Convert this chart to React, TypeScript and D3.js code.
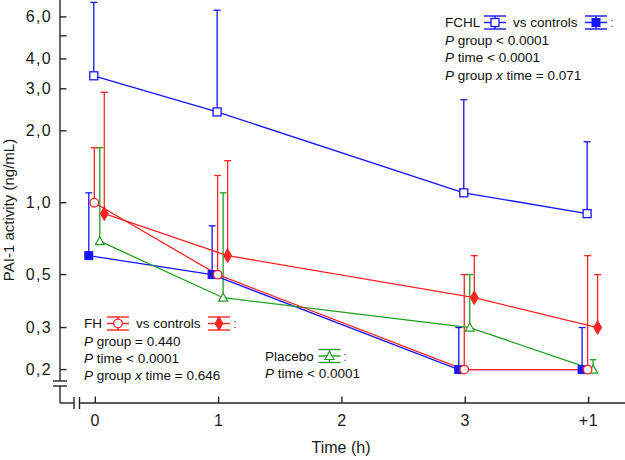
import React from "react";
import * as d3 from "d3";

// ---------- data ----------
const categories = ["0", "1", "2", "3", "+1"];
const timeIndex = [0, 1, 3, 4];

const fchlMean = [3.4, 2.4, 1.1, 0.9];
const fchlUpper = [6.9, 6.4, 2.7, 1.8];
const fchlCtrlMean = [0.6, 0.5, 0.2, 0.2];
const fchlCtrlUpper = [1.1, 0.8, 0.3, 0.3];
const fhMean = [1.0, 0.5, 0.2, 0.2];
const fhUpper = [1.7, 1.3, 0.5, 0.6];
const fhCtrlMean = [0.9, 0.6, 0.4, 0.3];
const fhCtrlUpper = [2.9, 1.5, 0.6, 0.5];
const placeboMean = [0.69, 0.4, 0.3, 0.2];
const placeboUpper = [1.7, 1.1, 0.5, 0.22];

const yTicks = [0.2, 0.3, 0.5, 1, 2, 3, 4, 5, 6];
const yTickLabels = ["0,2", "0,3", "0,5", "1,0", "2,0", "3,0", "4,0", "", "6,0"];

// ---------- styling ----------
const BLUE = "#1414ff";
const RED = "#ff2424";
const GREEN = "#22a022";
const AXIS = "#262626";
const FONT = "'Liberation Sans', Arial, sans-serif";

type Marker = "openSquare" | "filledSquare" | "openCircle" | "filledDiamond" | "openTriangle";

const series: { mean: number[]; upper: number[]; color: string; marker: Marker; dx: number }[] = [
  { mean: fchlCtrlMean, upper: fchlCtrlUpper, color: BLUE, marker: "filledSquare", dx: -6.5 },
  { mean: fchlMean, upper: fchlUpper, color: BLUE, marker: "openSquare", dx: -1.5 },
  { mean: placeboMean, upper: placeboUpper, color: GREEN, marker: "openTriangle", dx: 4.5 },
  { mean: fhCtrlMean, upper: fhCtrlUpper, color: RED, marker: "filledDiamond", dx: 9 },
  { mean: fhMean, upper: fhUpper, color: RED, marker: "openCircle", dx: -1 },
];

const x = d3.scaleLinear().domain([0, categories.length - 1]).range([95.3, 588.6]);
const y = d3.scaleLog().domain([0.2, 6]).range([369.6, 16.9]);

function MarkerShape({ type, cx, cy, color }: { type: Marker; cx: number; cy: number; color: string }) {
  switch (type) {
    case "openSquare":
      return <rect x={cx - 4} y={cy - 4} width={8} height={8} fill="#fff" stroke={color} strokeWidth={1.3} />;
    case "filledSquare":
      return <rect x={cx - 4} y={cy - 4} width={8} height={8} fill={color} stroke={color} strokeWidth={1} />;
    case "openCircle":
      return <circle cx={cx} cy={cy} r={4.3} fill="#fff" stroke={color} strokeWidth={1.3} />;
    case "filledDiamond":
      return (
        <path
          d={d3.symbol().type(d3.symbolDiamond).size(55)() as string}
          transform={`translate(${cx},${cy})`}
          fill={color}
          stroke={color}
          strokeWidth={1}
        />
      );
    case "openTriangle":
      return (
        <path
          d={`M${cx},${cy - 4.5}L${cx + 4.5},${cy + 3.5}L${cx - 4.5},${cy + 3.5}Z`}
          fill="#fff"
          stroke={color}
          strokeWidth={1.2}
        />
      );
  }
}

function LegendGlyph({ cx, cy, color, marker }: { cx: number; cy: number; color: string; marker: Marker }) {
  const w = 11;
  const h = 6.5;
  return (
    <g>
      <line x1={cx - w} x2={cx + w} y1={cy - h} y2={cy - h} stroke={color} strokeWidth={1.4} />
      <line x1={cx - w} x2={cx + w} y1={cy} y2={cy} stroke={color} strokeWidth={1.4} />
      <line x1={cx - w} x2={cx + w} y1={cy + h} y2={cy + h} stroke={color} strokeWidth={1.4} />
      <line x1={cx} x2={cx} y1={cy - h} y2={cy + h} stroke={color} strokeWidth={1.4} />
      <MarkerShape type={marker} cx={cx} cy={cy} color={color} />
    </g>
  );
}

const P = () => <tspan fontStyle="italic">P</tspan>;
const COLON = "#6a40c0";

export default function App() {
  const line = d3
    .line<[number, number]>()
    .x((d) => d[0])
    .y((d) => d[1]);

  return (
    <svg width={625} height={460} style={{ position: "absolute", left: 0, top: 0, background: "#fff" }} fontFamily={FONT}>
      {/* axes */}
      <g stroke={AXIS} strokeWidth={1.4} fill="none">
        <line x1={60} x2={60} y1={0} y2={381} />
        <line x1={60} x2={60} y1={386} y2={403} />
        <line x1={53} x2={67} y1={381} y2={381} />
        <line x1={53} x2={67} y1={386} y2={386} />
        <line x1={60} x2={74} y1={403} y2={403} />
        <line x1={79.5} x2={625} y1={403} y2={403} />
        <line x1={74} x2={74} y1={397} y2={409} />
        <line x1={79.5} x2={79.5} y1={397} y2={409} />
        {yTicks.map((t) => (
          <line key={t} x1={60} x2={66.5} y1={y(t)} y2={y(t)} />
        ))}
        {categories.map((c, i) => (
          <line key={c} x1={x(i)} x2={x(i)} y1={403} y2={396.5} />
        ))}
      </g>
      <g fontSize={16} fill="#1a1a1a">
        {yTicks.map((t, i) => (
          <text key={t} x={52} y={y(t) + 5.5} textAnchor="end" letterSpacing={1.3}>
            {yTickLabels[i]}
          </text>
        ))}
        {categories.map((c, i) => (
          <text key={c} x={x(i)} y={426} textAnchor="middle" letterSpacing={0.6}>
            {c}
          </text>
        ))}
      </g>
      <text x={341} y={453} textAnchor="middle" fontSize={16} fill="#1a1a1a">
        Time (h)
      </text>
      <text transform="translate(14,210) rotate(-90)" textAnchor="middle" fontSize={15} fill="#1a1a1a">
        PAI-1 activity (ng/mL)
      </text>

      {/* error bars */}
      {series.map((s, si) => (
        <g key={"e" + si} stroke={s.color} strokeWidth={1.3}>
          {timeIndex.map((ti, j) => {
            const px = x(ti) + s.dx;
            return (
              <g key={j}>
                <line x1={px} x2={px} y1={y(s.mean[j])} y2={y(s.upper[j])} />
                <line x1={px - 3.5} x2={px + 3.5} y1={y(s.upper[j])} y2={y(s.upper[j])} />
              </g>
            );
          })}
        </g>
      ))}
      {/* lines */}
      {series.map((s, si) => (
        <path
          key={"l" + si}
          d={line(timeIndex.map((ti, j) => [x(ti) + s.dx, y(s.mean[j])])) as string}
          fill="none"
          stroke={s.color}
          strokeWidth={1.3}
        />
      ))}
      {/* markers */}
      {series.map((s, si) => (
        <g key={"m" + si}>
          {timeIndex.map((ti, j) => (
            <MarkerShape key={j} type={s.marker} cx={x(ti) + s.dx} cy={y(s.mean[j])} color={s.color} />
          ))}
        </g>
      ))}

      {/* legends */}
      <g fontSize={13.5} fill="#111">
        <text x={445} y={27}>FCHL</text>
        <LegendGlyph cx={495} cy={22.5} color={BLUE} marker="openSquare" />
        <text x={513} y={27}>vs controls</text>
        <LegendGlyph cx={596} cy={22.5} color={BLUE} marker="filledSquare" />
        <text x={610} y={27} fill={COLON}>:</text>
        <text x={445} y={44.5}><P /> group &lt; 0.0001</text>
        <text x={445} y={62}><P /> time &lt; 0.0001</text>
        <text x={445} y={79.5}><P /> group <tspan fontStyle="italic">x</tspan> time = 0.071</text>

        <text x={84} y={328}>FH</text>
        <LegendGlyph cx={118} cy={323.5} color={RED} marker="openCircle" />
        <text x={136} y={328}>vs controls</text>
        <LegendGlyph cx={219} cy={323.5} color={RED} marker="filledDiamond" />
        <text x={233} y={328} fill={COLON}>:</text>
        <text x={84} y={346}><P /> group = 0.440</text>
        <text x={84} y={363}><P /> time &lt; 0.0001</text>
        <text x={84} y={380}><P /> group <tspan fontStyle="italic">x</tspan> time = 0.646</text>

        <text x={265} y={360.5}>Placebo</text>
        <LegendGlyph cx={329.5} cy={356} color={GREEN} marker="openTriangle" />
        <text x={343} y={360.5} fill={COLON}>:</text>
        <text x={265} y={377.5}><P /> time &lt; 0.0001</text>
      </g>
    </svg>
  );
}
